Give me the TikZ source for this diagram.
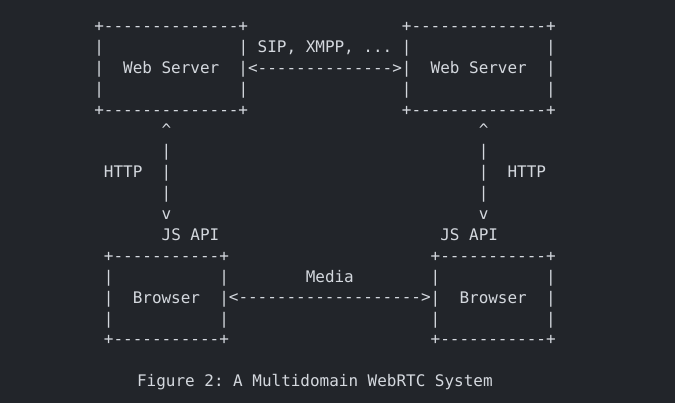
\documentclass[tikz,border=0pt]{standalone}
\usepackage{fontspec}
\setmonofont{DejaVu Sans Mono}
\definecolor{termbg}{RGB}{34,37,42}
\definecolor{termfg}{RGB}{212,216,222}
\tikzset{
  asciibox/.style={font=\ttfamily\fontsize{15.96pt}{20.9pt}\selectfont, text=termfg,
    inner sep=0pt, anchor=north west, align=left},
  asciitext/.style={font=\ttfamily\fontsize{15.96pt}{20.9pt}\selectfont, text=termfg,
    inner sep=0pt, anchor=base west},
}
\begin{document}
\begin{tikzpicture}[x=9.61pt, y=-20.9pt]
  % one unit = one character cell, rows on baselines
  \fill[termbg] (-9.8,-1.493) rectangle (60.44,17.789);
  \useasboundingbox (-9.8,-1.493) rectangle (60.44,17.789);
  % web servers
  \node[asciibox] (srvA) at (0,-0.7) {\strut+--------------+\\\strut|~~~~~~~~~~~~~~|\\\strut|~~Web~Server~~|\\\strut|~~~~~~~~~~~~~~|\\\strut+--------------+};
  \node[asciibox] (srvB) at (32,-0.7) {\strut+--------------+\\\strut|~~~~~~~~~~~~~~|\\\strut|~~Web~Server~~|\\\strut|~~~~~~~~~~~~~~|\\\strut+--------------+};
  \node[asciitext] (sipLabel) at (17,1) {SIP, XMPP, ...};
  \node[asciitext] (sipLink) at (16,2) {<-------------->};
  % http
  \node[asciibox] (httpA) at (7,4.3) {\strut\textasciicircum\\\strut|\\\strut|\\\strut|\\\strut v};
  \node[asciibox] (httpB) at (40,4.3) {\strut\textasciicircum\\\strut|\\\strut|\\\strut|\\\strut v};
  \node[asciitext] (httpLabelA) at (1,7) {HTTP};
  \node[asciitext] (httpLabelB) at (43,7) {HTTP};
  \node[asciitext] (jsA) at (7,10) {JS API};
  \node[asciitext] (jsB) at (36,10) {JS API};
  % browsers
  \node[asciibox] (brA) at (1,10.3) {\strut+-----------+\\\strut|~~~~~~~~~~~|\\\strut|~~Browser~~|\\\strut|~~~~~~~~~~~|\\\strut+-----------+};
  \node[asciibox] (brB) at (35,10.3) {\strut+-----------+\\\strut|~~~~~~~~~~~|\\\strut|~~Browser~~|\\\strut|~~~~~~~~~~~|\\\strut+-----------+};
  \node[asciitext] (mediaLabel) at (22,12) {Media};
  \node[asciitext] (mediaLink) at (14,13) {<------------------->};
  \node[asciitext] (caption) at (4.45,17) {Figure 2: A Multidomain WebRTC System};
\end{tikzpicture}
\end{document}
